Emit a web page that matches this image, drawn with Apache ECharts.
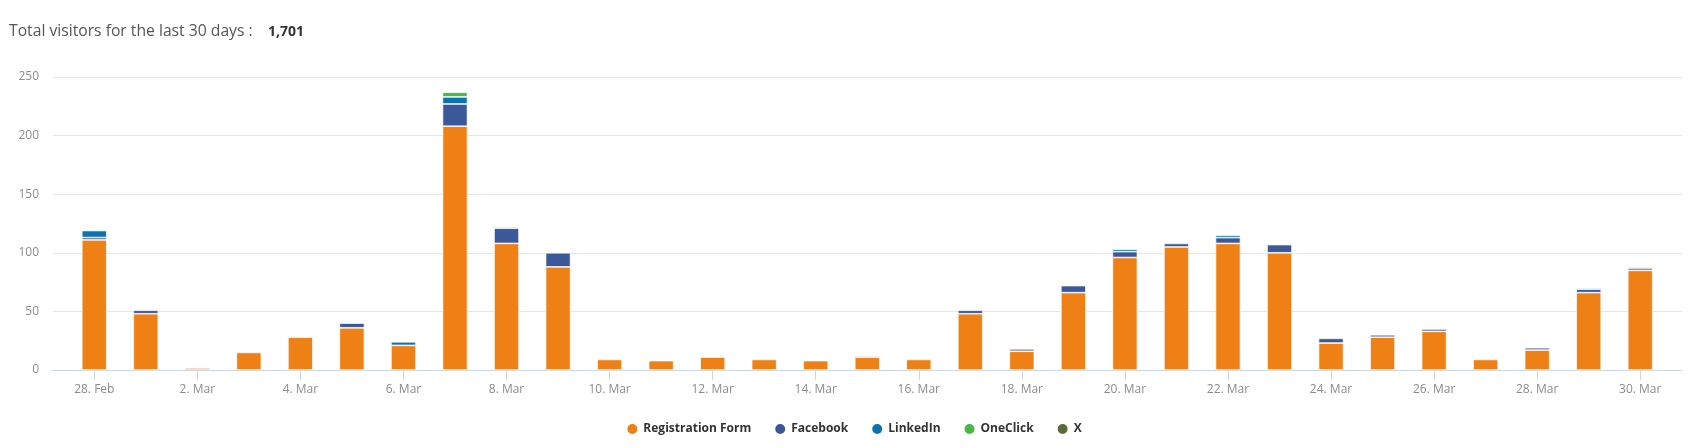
<!DOCTYPE html>
<html>
<head>
<meta charset="utf-8">
<script src="https://cdn.jsdelivr.net/npm/echarts@6/dist/echarts.min.js"></script>
<style>
  html, body { margin: 0; padding: 0; background: #fff; }
  #chart { width: 1707px; height: 448px; }
</style>
</head>
<body>
<div id="chart"></div>
<script>
// ---- data ----
const titleText = 'Total visitors for the last 30 days :';
const totalVisitors = '1,701';
const categories = ['28. Feb','1. Mar','2. Mar','3. Mar','4. Mar','5. Mar','6. Mar','7. Mar','8. Mar','9. Mar',
  '10. Mar','11. Mar','12. Mar','13. Mar','14. Mar','15. Mar','16. Mar','17. Mar','18. Mar','19. Mar',
  '20. Mar','21. Mar','22. Mar','23. Mar','24. Mar','25. Mar','26. Mar','27. Mar','28. Mar','29. Mar','30. Mar'];
const registrationForm = [111,48,1,15,28,36,21,208,108,88,9,8,11,9,8,11,9,48,16,66,96,105,108,100,23,28,33,9,17,66,85];
const facebook         = [2,3,0,0,0,4,0,19,13,12,0,0,0,0,0,1,0,3,2,6,5,3,5,7,4,2,2,0,2,3,2];
const linkedin         = [6,0,0,0,0,0,3,6,1,0,0,0,0,0,0,0,0,0,0,0,2,0,2,0,0,0,0,0,0,1,1];
const oneClick         = [0,0,0,0,0,0,0,4,0,0,0,0,0,0,0,0,0,0,0,0,0,0,0,0,0,0,0,0,0,0,0];
const xSource          = [0,0,0,0,0,0,0,0,0,0,0,0,0,0,0,0,0,0,0,0,0,0,0,0,0,0,0,0,0,0,0];
const seriesNames = ['Registration Form','Facebook','LinkedIn','OneClick','X'];
const seriesValues = [registrationForm, facebook, linkedin, oneClick, xSource];
const yTicks = [0, 50, 100, 150, 200, 250];

// ---- style ----
const colors = ['#ee8015', '#3b5998', '#0a73b1', '#45ba45', '#5b6b34'];
const FONT = '"Open Sans", "Noto Sans", sans-serif';

const chart = echarts.init(document.getElementById('chart'), null, { renderer: 'canvas' });

const series = seriesNames.map((name, s) => ({
  name,
  type: 'bar',
  stack: 'total',
  xAxisIndex: 1,
  yAxisIndex: 1,
  barWidth: 25,
  barMinHeight: s === 0 ? 2 : 0,
  itemStyle: { color: colors[s], borderColor: '#ffffff', borderWidth: 0.7 },
  emphasis: { disabled: true },
  data: seriesValues[s].map(v => (v === 0 ? null : v))
}));

const yMin = yTicks[0], yMax = yTicks[yTicks.length - 1];

chart.setOption({
  animation: false,
  color: colors,
  textStyle: { fontFamily: FONT },
  graphic: [
    { type: 'text', left: 9, top: 24, style: { text: titleText, fill: '#555555', font: '15.7px ' + FONT } },
    { type: 'text', left: 268, top: 25, style: { text: totalVisitors, fill: '#333333', font: 'bold 14px ' + FONT } }
  ],
  grid: [
    { left: 53, right: 25, top: 77, bottom: 78 },
    { left: 68.5, right: 41, top: 77, bottom: 78 }
  ],
  legend: {
    data: seriesNames,
    left: 'center',
    top: 417,
    icon: 'circle',
    itemWidth: 12,
    itemHeight: 12,
    itemGap: 22,
    textStyle: { color: '#333333', fontWeight: 'bold', fontSize: 12, fontFamily: FONT }
  },
  xAxis: [
    {
      gridIndex: 0, type: 'value', min: 0, max: 1,
      splitLine: { show: false }, axisTick: { show: false }, axisLabel: { show: false },
      axisLine: { show: true, lineStyle: { color: '#ccd6eb', width: 1 } }
    },
    {
      gridIndex: 1, type: 'category', data: categories, boundaryGap: true,
      axisLine: { show: false },
      splitLine: { show: false },
      axisTick: { show: true, interval: 1, alignWithLabel: true, length: 10, lineStyle: { color: '#ccd6eb' } },
      axisLabel: { interval: 1, color: '#8c8c8c', fontSize: 12, margin: 14, fontFamily: FONT }
    }
  ],
  yAxis: [
    {
      gridIndex: 0, type: 'value', min: yMin, max: yMax, interval: 50,
      axisLine: { show: false }, axisTick: { show: false },
      splitLine: { lineStyle: { color: '#e6e6e6', width: 1 } },
      axisLabel: { color: '#8c8c8c', fontSize: 12, margin: 14, fontFamily: FONT }
    },
    {
      gridIndex: 1, type: 'value', min: yMin, max: yMax, interval: 50,
      show: false
    }
  ],
  series
});
</script>
</body>
</html>
